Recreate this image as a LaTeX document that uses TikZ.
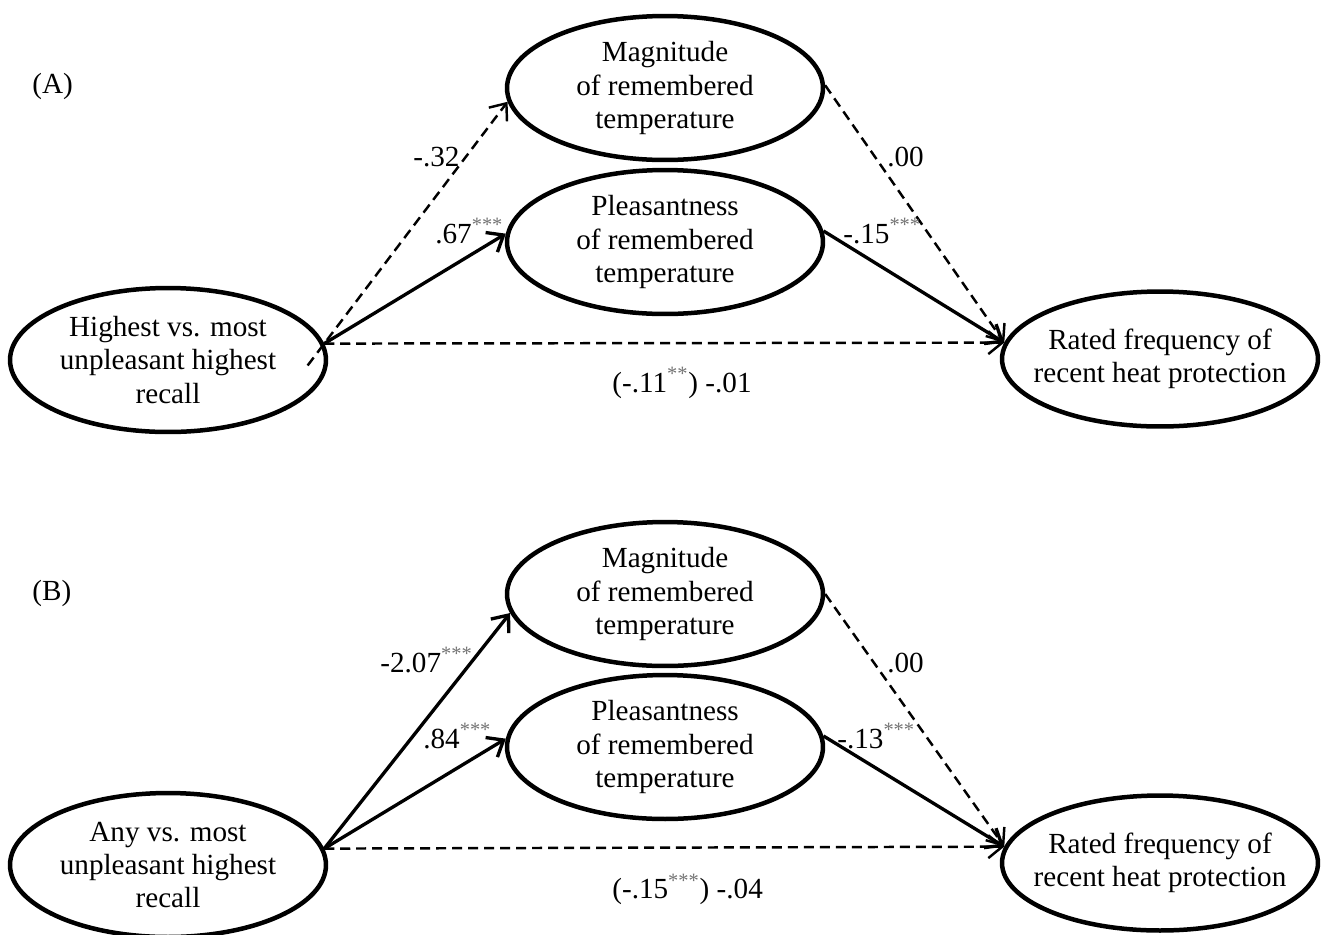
\documentclass[tikz,border=0pt]{standalone}
\usepackage{fontspec}
\setmainfont{Liberation Serif}
\usepackage{xcolor}
\usetikzlibrary{shapes.geometric,arrows.meta}
\newcommand{\stars}[1]{\textsuperscript{\textcolor{black!55}{#1}}}

\begin{document}
\begin{tikzpicture}[x=0.02cm,y=-0.02cm,
	font=\fontsize{16.6pt}{18.9pt}\selectfont,
	latent/.style={ellipse,draw,line width=0.09cm,minimum width=6.32cm,minimum height=2.88cm,inner xsep=-10pt,inner ysep=0pt,align=center},
	solidarr/.style={->,line width=1.9pt},
	dasharr/.style={->,line width=1.4pt,dash pattern=on 5.7pt off 3.4pt},
	coef/.style={anchor=base west,inner sep=0pt},
	>={Straight Barb[length=8pt,width=13pt]}]
			\useasboundingbox (0,0) rectangle (1325,934);
			\node[latent] (mA) at (665,88) {Magnitude\\of remembered\\temperature};
			\node[latent] (pA) at (665,242) {Pleasantness\\of remembered\\temperature};
			\node[latent] (hA) at (168,360) {Highest vs. most\\unpleasant highest\\recall};
			\node[latent,minimum height=2.7cm] (rA) at (1160,359) {Rated frequency of\\recent heat protection};
			\draw[dasharr,shorten <=-0.55cm] (hA.6) -- (mA.185);
			\draw[solidarr] (hA.6) -- (pA.177);
			\draw[dasharr] (hA.6) -- (rA.174);
			\draw[dasharr] (mA.1) -- (rA.174);
			\draw[solidarr] (pA.4) -- (rA.174);
			\node[coef] (tagA) at (32,93) {(A)};
			\node[coef] (hmA) at (413,166) {-.32};
			\node[coef] (hpA) at (435,243) {.67\stars{***}};
			\node[coef] (mrA) at (887,166) {.00};
			\node[coef] (prA) at (843,243) {-.15\stars{***}};
			\node[coef] (hrA) at (612,392) {(-.11\stars{**}) -.01};
			\node[latent] (mB) at (665,594) {Magnitude\\of remembered\\temperature};
			\node[latent] (pB) at (665,747) {Pleasantness\\of remembered\\temperature};
			\node[latent] (hB) at (168,865) {Any vs. most\\unpleasant highest\\recall};
			\node[latent,minimum height=2.7cm] (rB) at (1160,863) {Rated frequency of\\recent heat protection};
			\draw[solidarr] (hB.6) -- (mB.187);
			\draw[solidarr] (hB.6) -- (pB.177);
			\draw[dasharr] (hB.6) -- (rB.174);
			\draw[dasharr] (mB.0) -- (rB.174);
			\draw[solidarr] (pB.4) -- (rB.174);
			\node[coef] (tagB) at (32,600) {(B)};
			\node[coef] (hmB) at (380,672) {-2.07\stars{***}};
			\node[coef] (hpB) at (423,748) {.84\stars{***}};
			\node[coef] (mrB) at (887,672) {.00};
			\node[coef] (prB) at (837,748) {-.13\stars{***}};
			\node[coef] (hrB) at (612,898) {(-.15\stars{***}) -.04};
		\end{tikzpicture}
\end{document}
